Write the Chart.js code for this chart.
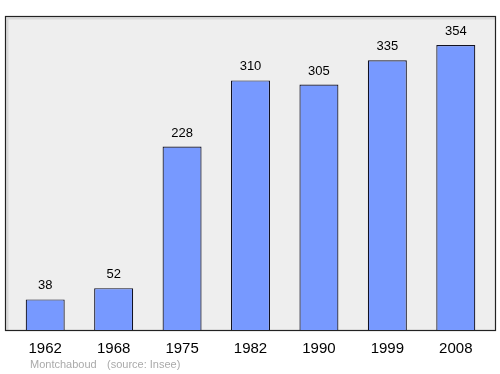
<!DOCTYPE html>
<html>
<head>
<meta charset="utf-8">
<script src="https://cdn.jsdelivr.net/npm/chart.js@4/dist/chart.umd.min.js"></script>
<style>
  body { margin: 0; background: #fff; }
  #wrap { width: 500px; height: 374px; }
</style>
</head>
<body>
<div id="wrap"><canvas id="chart" width="500" height="374"></canvas></div>
<script>
const years = ["1962", "1968", "1975", "1982", "1990", "1999", "2008"];
const population = [38, 52, 228, 310, 305, 335, 354];
const yMax = 390;
const footerName = "Montchaboud";
const footerSource = "(source: Insee)";

// gray panel with border behind the bars
const panelPlugin = {
  id: "panel",
  beforeDatasetsDraw(chart) {
    const { ctx, chartArea } = chart;
    const x0 = 5.5, x1 = 495.5;
    const y0 = chartArea.top + 0.5, y1 = chartArea.bottom + 0.5;
    ctx.save();
    ctx.fillStyle = "#eeeeee";
    ctx.fillRect(x0, y0, x1 - x0, y1 - y0);
    ctx.strokeStyle = "#d8d8d8";
    ctx.lineWidth = 2;
    ctx.beginPath();
    ctx.moveTo(x0 + 2, y1);
    ctx.lineTo(x0 + 2, y0 + 2);
    ctx.lineTo(x1, y0 + 2);
    ctx.stroke();
    ctx.strokeStyle = "#222";
    ctx.lineWidth = 1.2;
    ctx.strokeRect(x0, y0, x1 - x0, y1 - y0);
    ctx.restore();
  },
  afterDatasetsDraw(chart) {
    const { ctx } = chart;
    const meta = chart.getDatasetMeta(0);
    ctx.save();
    ctx.fillStyle = "#000";
    ctx.font = "13px 'Liberation Sans', Arial, sans-serif";
    ctx.textAlign = "center";
    ctx.textBaseline = "bottom";
    meta.data.forEach((bar, i) => {
      ctx.fillText(String(population[i]), bar.x, bar.y - 7);
    });
    // footer
    ctx.fillStyle = "#aaaaaa";
    ctx.font = "11px 'Liberation Sans', Arial, sans-serif";
    ctx.textAlign = "left";
    ctx.textBaseline = "middle";
    ctx.fillText(footerName, 30, 365);
    ctx.fillText(footerSource, 107, 365);
    ctx.restore();
  }
};

new Chart(document.getElementById("chart"), {
  type: "bar",
  data: {
    labels: years,
    datasets: [{
      data: population,
      backgroundColor: "#7799ff",
      borderColor: "#111122",
      borderWidth: 1.2,
      categoryPercentage: 1,
      barPercentage: 0.57
    }]
  },
  options: {
    responsive: false,
    animation: false,
    layout: { padding: { left: 11, right: 10, top: 16, bottom: 14 } },
    plugins: {
      legend: { display: false },
      tooltip: { enabled: false }
    },
    scales: {
      x: {
        grid: { display: false },
        border: { display: false },
        ticks: {
          color: "#000",
          padding: 2,
          font: { size: 15, family: "'Liberation Sans', Arial, sans-serif" }
        }
      },
      y: {
        display: false,
        min: 0,
        max: yMax
      }
    }
  },
  plugins: [panelPlugin]
});
</script>
</body>
</html>
